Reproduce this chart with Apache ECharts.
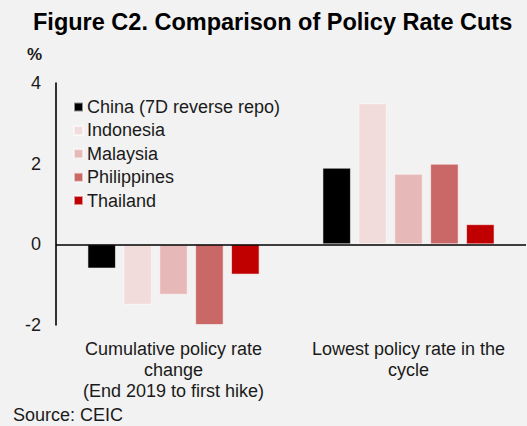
<!DOCTYPE html>
<html>
<head>
<meta charset="utf-8">
<script src="https://cdn.jsdelivr.net/npm/echarts@6/dist/echarts.min.js"></script>
<style>
html,body{margin:0;padding:0;background:#f2f2f2;}
#chart{width:527px;height:426px;}
</style>
</head>
<body>
<div id="chart"></div>
<script>
var categories = ["Cumulative policy rate\nchange\n(End 2019 to first hike)", "Lowest policy rate in the\ncycle"];
var seriesNames = ["China (7D reverse repo)", "Indonesia", "Malaysia", "Philippines", "Thailand"];
var china = [-0.6, 1.9];
var indonesia = [-1.5, 3.5];
var malaysia = [-1.25, 1.75];
var philippines = [-2.0, 2.0];
var thailand = [-0.75, 0.5];
var yTicks = [-2, 0, 2, 4];
var colors = ["#000000", "#F2DCDB", "#E6B9B8", "#C96866", "#C00000"];

var values = [china, indonesia, malaysia, philippines, thailand];
var font = "'Liberation Sans', Arial, sans-serif";
var chart = echarts.init(document.getElementById('chart'), null, {renderer: 'svg'});
var series = seriesNames.map(function (n, i) {
  var s = {
    name: n,
    type: 'bar',
    data: values[i],
    barWidth: 28.5,
    barGap: '26%',
    itemStyle: {color: colors[i], borderColor: 'rgba(255,255,255,0.55)', borderWidth: 1},
    emphasis: {disabled: true}
  };
  if (i === 0) {
    s.markLine = {
      silent: true, symbol: 'none', label: {show: false},
      lineStyle: {color: '#000', width: 1.6, type: 'solid'},
      data: [{yAxis: 0}]
    };
  }
  return s;
});
chart.setOption({
  backgroundColor: '#f2f2f2',
  animation: false,
  title: {
    text: 'Figure C2. Comparison of Policy Rate Cuts',
    left: 33, top: 10, padding: 0,
    textStyle: {fontFamily: font, fontSize: 23.5, fontWeight: 'bold', color: '#000'}
  },
  legend: {
    orient: 'vertical', left: 73, top: 98, padding: 0,
    itemWidth: 9, itemHeight: 9, itemGap: 5.4, icon: 'rect',
    selectedMode: false,
    textStyle: {fontFamily: font, fontSize: 18, color: '#1a1a1a', lineHeight: 18, padding: [0,0,0,-1]},
    data: seriesNames
  },
  grid: {left: 56, right: 1, top: 83, bottom: 101, containLabel: false},
  xAxis: {
    type: 'category', data: categories,
    axisLine: {show: false}, axisTick: {show: false},
    axisLabel: {fontFamily: font, fontSize: 18, color: '#1a1a1a', lineHeight: 21, margin: 13, interval: 0}
  },
  yAxis: {
    type: 'value', min: yTicks[0], max: yTicks[yTicks.length - 1], interval: 2,
    axisLine: {show: true, lineStyle: {color: '#000', width: 1.6}},
    axisTick: {show: false}, splitLine: {show: false},
    axisLabel: {fontFamily: font, fontSize: 18, color: '#1a1a1a', margin: 15}
  },
  graphic: [
    {type: 'text', left: 27, top: 46, style: {text: '%', font: 'bold 17px ' + font, fill: '#1a1a1a'}},
    {type: 'text', left: 13, top: 406, style: {text: 'Source: CEIC', font: '18px ' + font, fill: '#1a1a1a'}}
  ],
  series: series
});
</script>
</body>
</html>
